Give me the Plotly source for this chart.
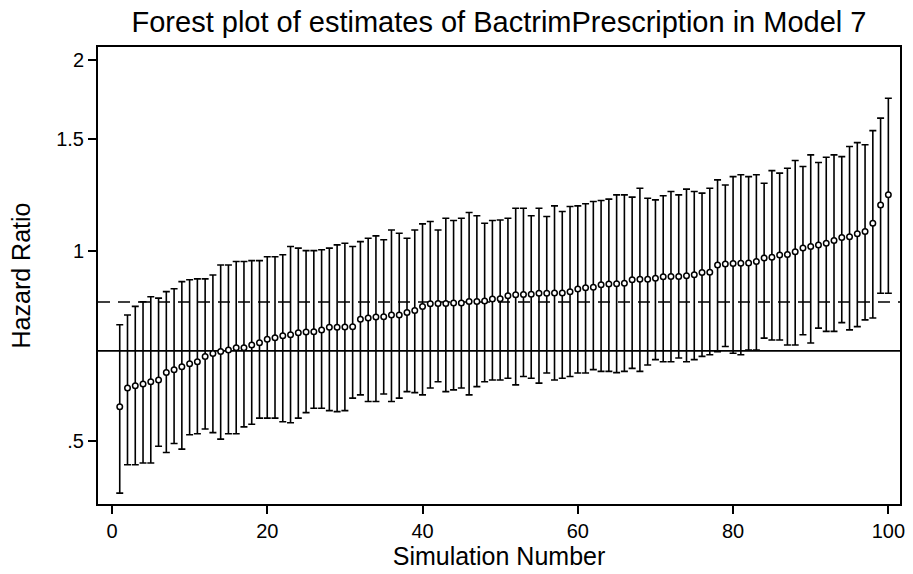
import math
import plotly.graph_objects as go

# Simulation runs, sorted by estimated hazard ratio
simulation = list(range(1, 101))

hazard_ratio = [
    0.567, 0.607, 0.612, 0.616, 0.621, 0.625, 0.642, 0.649, 0.656, 0.663,
    0.668, 0.681, 0.688, 0.693, 0.697, 0.703, 0.703, 0.710, 0.716, 0.725,
    0.729, 0.734, 0.737, 0.742, 0.744, 0.745, 0.750, 0.757, 0.757, 0.758,
    0.759, 0.780, 0.783, 0.786, 0.787, 0.792, 0.792, 0.799, 0.805, 0.817,
    0.825, 0.826, 0.826, 0.827, 0.827, 0.832, 0.832, 0.833, 0.839, 0.840,
    0.849, 0.852, 0.853, 0.854, 0.857, 0.857, 0.858, 0.858, 0.862, 0.870,
    0.874, 0.876, 0.884, 0.886, 0.887, 0.889, 0.900, 0.902, 0.902, 0.905,
    0.910, 0.911, 0.911, 0.913, 0.917, 0.924, 0.925, 0.950, 0.953, 0.955,
    0.956, 0.957, 0.962, 0.974, 0.977, 0.985, 0.987, 0.997, 1.010, 1.016,
    1.022, 1.028, 1.038, 1.050, 1.053, 1.064, 1.073, 1.106, 1.182, 1.226,
]

ci_upper = [
    0.764, 0.792, 0.817, 0.831, 0.846, 0.842, 0.862, 0.871, 0.894, 0.900,
    0.903, 0.903, 0.916, 0.950, 0.950, 0.962, 0.962, 0.965, 0.965, 0.979,
    0.979, 0.986, 1.016, 1.010, 1.001, 1.001, 1.004, 1.010, 1.022, 1.028,
    1.016, 1.034, 1.047, 1.056, 1.041, 1.079, 1.066, 1.047, 1.079, 1.103,
    1.113, 1.079, 1.126, 1.117, 1.126, 1.150, 1.136, 1.106, 1.117, 1.119,
    1.126, 1.168, 1.168, 1.136, 1.168, 1.133, 1.178, 1.154, 1.175, 1.178,
    1.187, 1.197, 1.201, 1.207, 1.226, 1.226, 1.216, 1.256, 1.211, 1.204,
    1.222, 1.241, 1.226, 1.252, 1.241, 1.234, 1.256, 1.295, 1.271, 1.310,
    1.319, 1.310, 1.319, 1.279, 1.339, 1.327, 1.351, 1.389, 1.359, 1.418,
    1.379, 1.406, 1.418, 1.409, 1.462, 1.483, 1.471, 1.549, 1.621, 1.743,
]

ci_lower = [
    0.414, 0.459, 0.459, 0.462, 0.462, 0.491, 0.480, 0.496, 0.486, 0.512,
    0.514, 0.523, 0.516, 0.504, 0.514, 0.514, 0.527, 0.532, 0.544, 0.544,
    0.544, 0.537, 0.535, 0.544, 0.555, 0.564, 0.564, 0.559, 0.557, 0.559,
    0.585, 0.592, 0.578, 0.578, 0.594, 0.578, 0.585, 0.599, 0.597, 0.592,
    0.607, 0.621, 0.599, 0.603, 0.607, 0.592, 0.610, 0.621, 0.625, 0.625,
    0.629, 0.614, 0.633, 0.629, 0.618, 0.641, 0.625, 0.629, 0.633, 0.641,
    0.641, 0.649, 0.645, 0.645, 0.642, 0.645, 0.652, 0.645, 0.660, 0.673,
    0.668, 0.668, 0.677, 0.668, 0.673, 0.681, 0.685, 0.693, 0.706, 0.689,
    0.685, 0.697, 0.697, 0.728, 0.723, 0.723, 0.710, 0.710, 0.737, 0.715,
    0.755, 0.746, 0.746, 0.770, 0.750, 0.759, 0.778, 0.783, 0.857, 0.857,
]

# Reference lines
true_value = 0.695
mean_estimate = 0.83

# Axis ticks
x_ticks = [0, 20, 40, 60, 80, 100]
y_ticks = [0.5, 1, 1.5, 2]
y_tick_labels = [".5", "1", "1.5", "2"]

x_range = [-1.8, 101.5]
y_range = [0.398, 2.10]

FONT = "Arial, Liberation Sans, sans-serif"

err_plus = [u - p for u, p in zip(ci_upper, hazard_ratio)]
err_minus = [p - l for p, l in zip(hazard_ratio, ci_lower)]

fig = go.Figure()

fig.add_trace(go.Scatter(
    x=x_range, y=[true_value, true_value],
    mode="lines", line=dict(color="black", width=1.6),
    hoverinfo="skip", showlegend=False,
))
fig.add_trace(go.Scatter(
    x=x_range, y=[mean_estimate, mean_estimate],
    mode="lines", line=dict(color="black", width=1.6, dash="12px,8px"),
    hoverinfo="skip", showlegend=False,
))

fig.add_trace(go.Scatter(
    x=simulation, y=hazard_ratio,
    mode="markers",
    marker=dict(symbol="circle", size=5.5, color="white",
                line=dict(color="black", width=1.5)),
    error_y=dict(type="data", symmetric=False,
                 array=err_plus, arrayminus=err_minus,
                 color="black", thickness=1.6, width=3.5),
    showlegend=False,
))

fig.update_layout(
    width=913, height=574,
    margin=dict(l=98, r=8, t=47, b=69),
    paper_bgcolor="white", plot_bgcolor="white",
    font=dict(family=FONT, color="black"),
    title=dict(
        text="Forest plot of estimates of BactrimPrescription in Model 7",
        font=dict(size=29, color="black", family=FONT),
        x=0.5, xref="paper", xanchor="center",
        y=1 - 22 / 574, yref="container", yanchor="middle",
    ),
)

fig.update_xaxes(
    range=x_range, tickvals=x_ticks,
    showgrid=False, zeroline=False,
    showline=True, linecolor="black", linewidth=2, mirror=True,
    ticks="outside", ticklen=8, tickwidth=1.5, tickcolor="black",
    tickfont=dict(size=20, color="black"),
    title=dict(text="Simulation Number", font=dict(size=25, color="black"), standoff=6),
)
fig.update_yaxes(
    type="log",
    range=[math.log10(y_range[0]), math.log10(y_range[1])],
    tickvals=y_ticks, ticktext=y_tick_labels,
    showgrid=False, zeroline=False,
    showline=True, linecolor="black", linewidth=2, mirror=True,
    ticks="outside", ticklen=8, tickwidth=1.5, tickcolor="black",
    tickfont=dict(size=20, color="black"),
    title=dict(text="Hazard Ratio", font=dict(size=25, color="black"), standoff=18),
)

fig.write_html("out.html")
